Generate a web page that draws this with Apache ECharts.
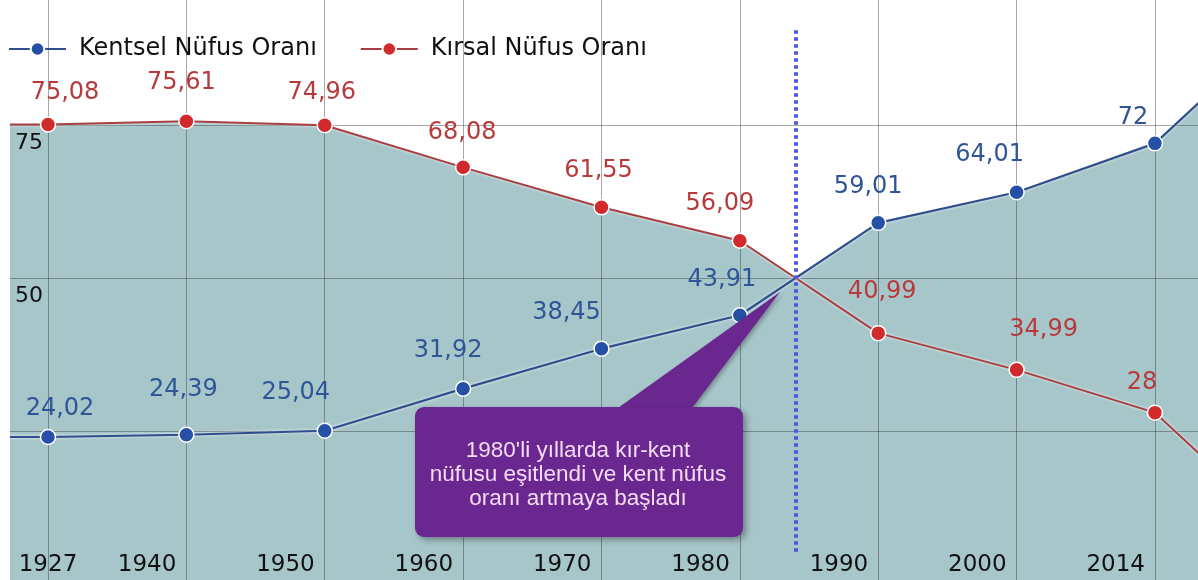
<!DOCTYPE html>
<html>
<head>
<meta charset="utf-8">
<script src="https://cdn.jsdelivr.net/npm/echarts@6/dist/echarts.min.js"></script>
<style>
  html, body { margin: 0; padding: 0; background: #ffffff; }
  #chart { width: 1198px; height: 580px; }
</style>
</head>
<body>
<div id="chart"></div>
<script>
// Sayım yılları ve kent / kır nüfus oranları (%)
const yillar = ['1927', '1940', '1950', '1960', '1970', '1980', '1990', '2000', '2014', '2022'];
const kentsel = [24.02, 24.39, 25.04, 31.92, 38.45, 43.91, 59.01, 64.01, 72, 93];
const kirsal = [75.08, 75.61, 74.96, 68.08, 61.55, 56.09, 40.99, 34.99, 28, 7];
// Y ekseninde yazısı gösterilen değerler
const yEtiketleri = [50, 75];

// Değer etiketlerinin noktaya göre kayması [dx, dy] (piksel)
const kentselEtiketKayma = [[12, -28], [-3, -45], [-29, -38], [-15, -38], [-35, -36], [-18, -36], [-10, -36], [-27, -37], [-22, -26], [0, -30]];
const kirsalEtiketKayma = [[17, -32], [-5, -39], [-3, -32], [-1, -35], [-3, -37], [-20, -37], [4, -41], [27, -40], [-13, -30], [0, -30]];

const GENISLIK = 1198;
const ILK_NOKTA = 48;     // ilk yılın yatay konumu
const ADIM = 138.37;      // iki yıl arası yatay aralık
const SOL = 10;           // çizim alanının sol kenarı
const xMin = -(ILK_NOKTA - SOL) / ADIM;
const xMax = (GENISLIK - ILK_NOKTA) / ADIM;

const fmt = v => String(v).replace('.', ',');

// Kent ve kır oranlarının kesiştiği yer (doğrusal parçalar arasında)
let kesisim = null;
for (let i = 0; i < kentsel.length - 1; i++) {
  const d0 = kentsel[i] - kirsal[i];
  const d1 = kentsel[i + 1] - kirsal[i + 1];
  if (d0 < 0 && d1 >= 0) {
    const t = d0 / (d0 - d1);
    kesisim = { x: i + t, y: kentsel[i] + t * (kentsel[i + 1] - kentsel[i]) };
    break;
  }
}

// Alan dolgusu: çizgiler çizim alanının sol kenarına kadar uzanır
const alanVerisi = arr => [[xMin, arr[0]]].concat(arr.map((v, i) => [i, v]));

const cizgiVerisi = (arr, kayma) => [{
  value: [xMin, arr[0]], symbol: 'none', label: { show: false }
}].concat(arr.map((v, i) => ({
  value: [i, v],
  label: { offset: kayma[i] }
})));

const FONT = 'DejaVu Sans';
const DOLGU = '#a7c6ca';
const IZGARA = 'rgba(55, 60, 62, 0.45)';

const chart = echarts.init(document.getElementById('chart'), null, { renderer: 'canvas' });

const option = {
  animation: false,
  backgroundColor: '#ffffff',
  legend: {
    data: ['Kentsel Nüfus Oranı', 'Kırsal Nüfus Oranı'],
    left: 3,
    top: 32,
    itemWidth: 57,
    itemHeight: 17,
    itemGap: 43,
    textStyle: { fontFamily: FONT, fontSize: 24, color: '#111111', padding: [0, 0, 0, 8] }
  },
  grid: [
    { left: SOL, right: 0, top: -28, bottom: -4, containLabel: false, outerBoundsMode: 'none' },
    { left: ILK_NOKTA, right: GENISLIK - (ILK_NOKTA + (yillar.length - 1) * ADIM), top: -28, bottom: -4, containLabel: false, outerBoundsMode: 'none' }
  ],
  xAxis: [
    {
      type: 'value', gridIndex: 0, min: xMin, max: xMax,
      show: false
    },
    {
      type: 'category', gridIndex: 1, boundaryGap: false,
      data: yillar.map((y, i) => i === 0 ? { value: y, textStyle: { align: 'center', padding: 0 } } : y),
      z: 2,
      axisLine: { show: false },
      axisTick: { show: false },
      splitLine: { show: true, lineStyle: { color: IZGARA, width: 1 } },
      axisLabel: {
        inside: true, interval: 0, margin: 7,
        align: 'right', padding: [0, 10, 0, 0],
        fontFamily: FONT, fontSize: 23, color: '#111111'
      }
    }
  ],
  yAxis: [
    {
      type: 'value', gridIndex: 0, min: 0, max: 100, interval: 25,
      z: 2,
      axisLine: { show: false },
      axisTick: { show: false },
      splitLine: { show: true, lineStyle: { color: IZGARA, width: 1 } },
      axisLabel: {
        inside: true, margin: 5, verticalAlign: 'top', padding: [7, 0, 0, 0],
        fontFamily: FONT, fontSize: 22, color: '#111111',
        formatter: v => yEtiketleri.includes(v) ? String(v) : ''
      }
    },
    { type: 'value', gridIndex: 1, min: 0, max: 100, show: false }
  ],
  series: [
    {
      name: 'alan-kirsal', type: 'line', xAxisIndex: 0, yAxisIndex: 0,
      data: alanVerisi(kirsal), symbol: 'none', silent: true, z: 1,
      lineStyle: { width: 0 }, areaStyle: { color: DOLGU, opacity: 1 }
    },
    {
      name: 'alan-kentsel', type: 'line', xAxisIndex: 0, yAxisIndex: 0,
      data: alanVerisi(kentsel), symbol: 'none', silent: true, z: 1,
      lineStyle: { width: 0 }, areaStyle: { color: DOLGU, opacity: 1 }
    },
    {
      name: 'Kırsal Nüfus Oranı', type: 'line', xAxisIndex: 0, yAxisIndex: 0, z: 3,
      data: cizgiVerisi(kirsal, kirsalEtiketKayma),
      symbol: 'circle', symbolSize: 15, showAllSymbol: true,
      lineStyle: { color: '#a83e40', width: 2, shadowColor: 'rgba(255,255,255,0.9)', shadowBlur: 3 },
      itemStyle: { color: '#d02a2c', borderColor: '#ffffff', borderWidth: 1.5 },
      label: {
        show: true, position: 'inside', formatter: p => fmt(p.value[1]),
        fontFamily: FONT, fontSize: 24, color: '#b83a3c'
      },
      markLine: {
        silent: true, symbol: ['none', 'none'], animation: false,
        label: { show: false },
        lineStyle: { type: [3.5, 3.5], width: 4, color: '#4a58e4', opacity: 1 },
        data: kesisim ? [[{ coord: [kesisim.x, 90.5] }, { coord: [kesisim.x, 4.7] }]] : []
      }
    },
    {
      name: 'Kentsel Nüfus Oranı', type: 'line', xAxisIndex: 0, yAxisIndex: 0, z: 4,
      data: cizgiVerisi(kentsel, kentselEtiketKayma),
      symbol: 'circle', symbolSize: 15, showAllSymbol: true,
      lineStyle: { color: '#2f4e8c', width: 2.2, shadowColor: 'rgba(255,255,255,0.9)', shadowBlur: 3 },
      itemStyle: { color: '#2550a6', borderColor: '#ffffff', borderWidth: 1.5 },
      label: {
        show: true, position: 'inside', formatter: p => fmt(p.value[1]),
        fontFamily: FONT, fontSize: 24, color: '#2f5597'
      }
    }
  ],
  graphic: [
    {
      type: 'polygon', z: 20,
      shape: { points: [[618, 408], [692, 408], [780, 292]] },
      style: { fill: '#6a2790', shadowBlur: 4, shadowColor: 'rgba(0,0,0,0.3)', shadowOffsetX: 2, shadowOffsetY: 2 }
    },
    {
      type: 'rect', z: 20,
      shape: { x: 415, y: 407, width: 328, height: 130, r: 9 },
      style: { fill: '#6a2790', shadowBlur: 6, shadowColor: 'rgba(0,0,0,0.35)', shadowOffsetX: 3, shadowOffsetY: 3 }
    },
    {
      type: 'text', z: 21, x: 578, y: 475,
      style: {
        text: "1980'li yıllarda kır-kent\nnüfusu eşitlendi ve kent nüfus\noranı artmaya başladı",
        fill: '#f4dcf2',
        font: '22.5px "Liberation Sans", Arial, sans-serif',
        align: 'center', textAlign: 'center',
        verticalAlign: 'middle', textVerticalAlign: 'middle',
        lineHeight: 24
      }
    }
  ]
};

chart.setOption(option);
</script>
</body>
</html>
